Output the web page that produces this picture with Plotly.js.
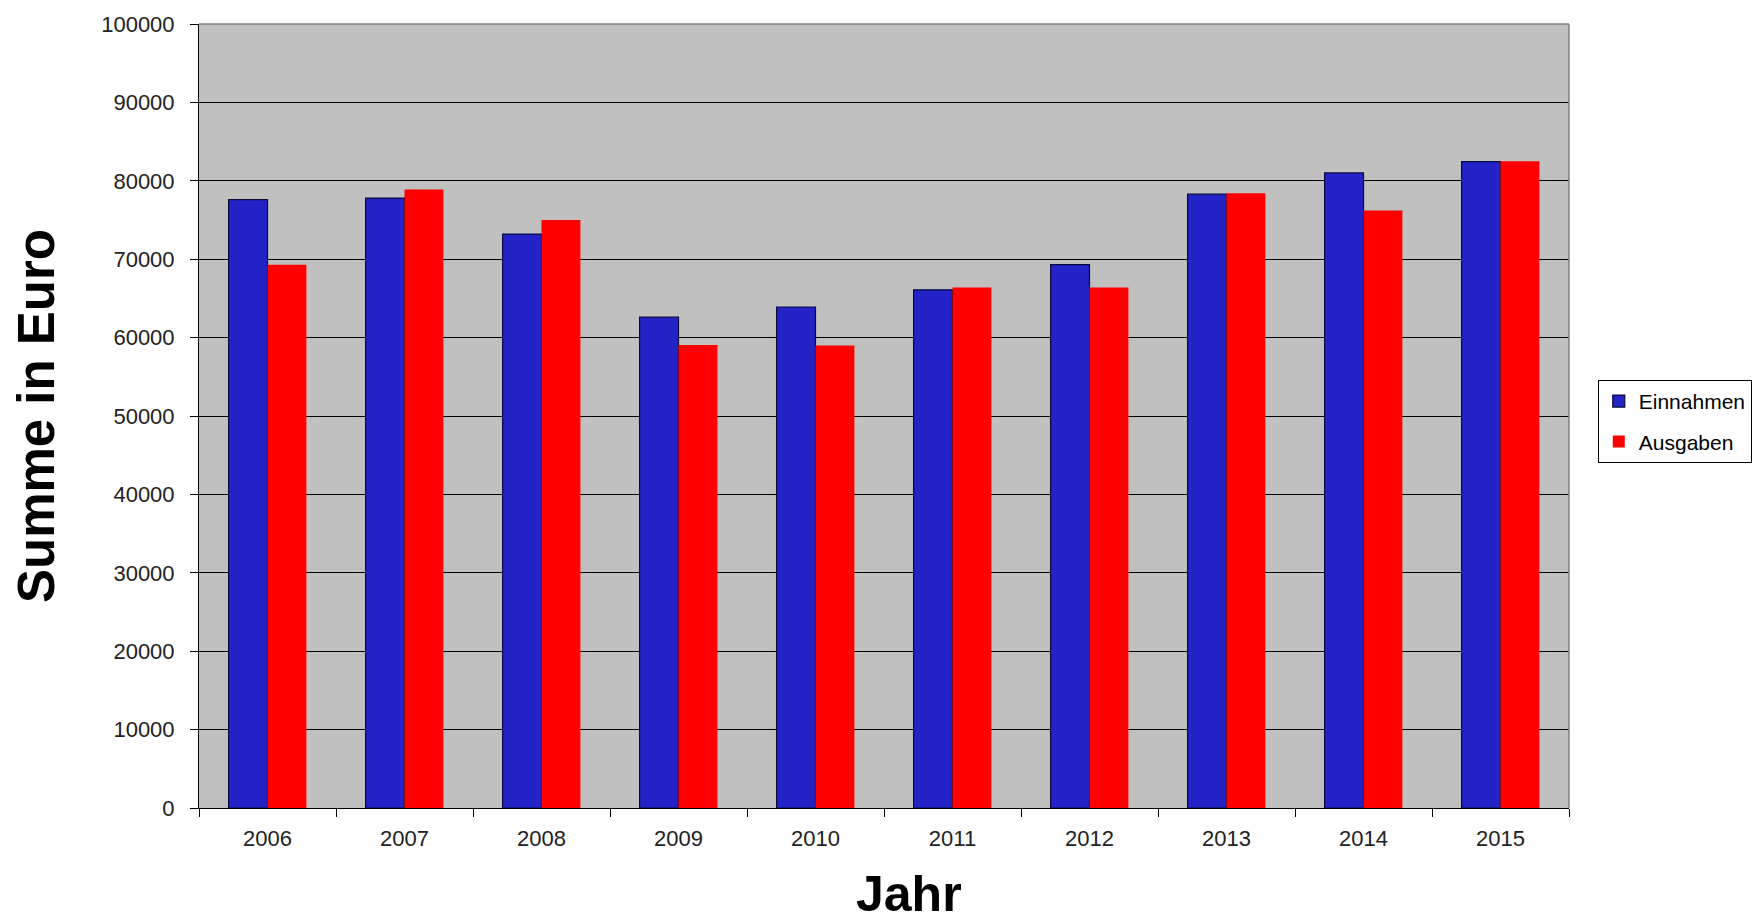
<!DOCTYPE html>
<html>
<head>
<meta charset="utf-8">
<script src="https://cdn.plot.ly/plotly-3.0.1.min.js"></script>
<style>html,body{margin:0;padding:0;background:#fff;}#chart{width:1764px;height:923px;}</style>
</head>
<body>
<div id="chart"></div>
<script>
const years = ["2006", "2007", "2008", "2009", "2010", "2011", "2012", "2013", "2014", "2015"];
const einnahmen = [77600, 77800, 73200, 62600, 63900, 66100, 69300, 78300, 81000, 82450];
const ausgaben = [69300, 78900, 75000, 59050, 59000, 66400, 66400, 78400, 76200, 82500];
const yTicks = [0, 10000, 20000, 30000, 40000, 50000, 60000, 70000, 80000, 90000, 100000];
const xTitle = "Jahr";
const yTitle = "Summe in Euro";

const FONT = "Arial, 'Liberation Sans', sans-serif";

const traces = [
  {
    type: "bar", name: "Einnahmen", x: years, y: einnahmen, legendgroup: "e",
    marker: {color: "#2323C8", line: {color: "#0a0a3a", width: 1.2}},
    hoverinfo: "x+y"
  },
  {
    type: "bar", name: "Ausgaben", x: years, y: ausgaben, legendgroup: "a",
    marker: {color: "#FF0000", line: {color: "#FF0000", width: 0}},
    hoverinfo: "x+y"
  }
];

const layout = {
  width: 1764, height: 923,
  margin: {l: 199, r: 191, t: 24, b: 115, pad: 0},
  paper_bgcolor: "#FFFFFF",
  plot_bgcolor: "#C0C0C0",
  barmode: "group",
  bargap: 0.432,
  bargroupgap: 0,
  font: {family: FONT, color: "#1a1a1a"},
  xaxis: {
    type: "category",
    tickson: "boundaries",
    ticks: "outside", ticklen: 8, tickcolor: "#000", tickwidth: 1,
    showline: true, linecolor: "#000", linewidth: 1,
    showgrid: false, zeroline: false,
    tickfont: {family: FONT, size: 22, color: "#222"},
    ticklabelstandoff: 11
  },
  yaxis: {
    range: [0, 100000],
    tickvals: yTicks,
    ticktext: yTicks.map(String),
    ticks: "outside", ticklen: 8, tickcolor: "#000", tickwidth: 1,
    showline: true, linecolor: "#000", linewidth: 1,
    showgrid: true, gridcolor: "#000", gridwidth: 1,
    zeroline: false,
    tickfont: {family: FONT, size: 22, color: "#222"},
    ticklabelstandoff: 11,
    title: {text: "<b>" + yTitle + "</b>", font: {family: FONT, size: 51, color: "#000"}, standoff: 30}
  },
  legend: {
    x: 1.021, xanchor: "left",
    y: 0.546, yanchor: "top",
    bgcolor: "#FFFFFF", bordercolor: "#000", borderwidth: 1,
    font: {family: FONT, size: 21, color: "#000"},
    itemwidth: 30,
    tracegroupgap: 10,
    traceorder: "grouped"
  },
  annotations: [
    {xref: "paper", yref: "paper", x: 0.518, y: -0.071, xanchor: "center", yanchor: "top",
     text: "<b>" + xTitle + "</b>", showarrow: false, font: {family: FONT, size: 50, color: "#000"}}
  ],
  shapes: [
    {type: "line", xref: "paper", yref: "paper", x0: 0, x1: 1, y0: 1, y1: 1, line: {color: "#808080", width: 1.5}},
    {type: "line", xref: "paper", yref: "paper", x0: 1, x1: 1, y0: 0, y1: 1, line: {color: "#808080", width: 1.5}}
  ],
  showlegend: true
};

Plotly.newPlot("chart", traces, layout, {displayModeBar: false, staticPlot: true});
</script>
</body>
</html>
